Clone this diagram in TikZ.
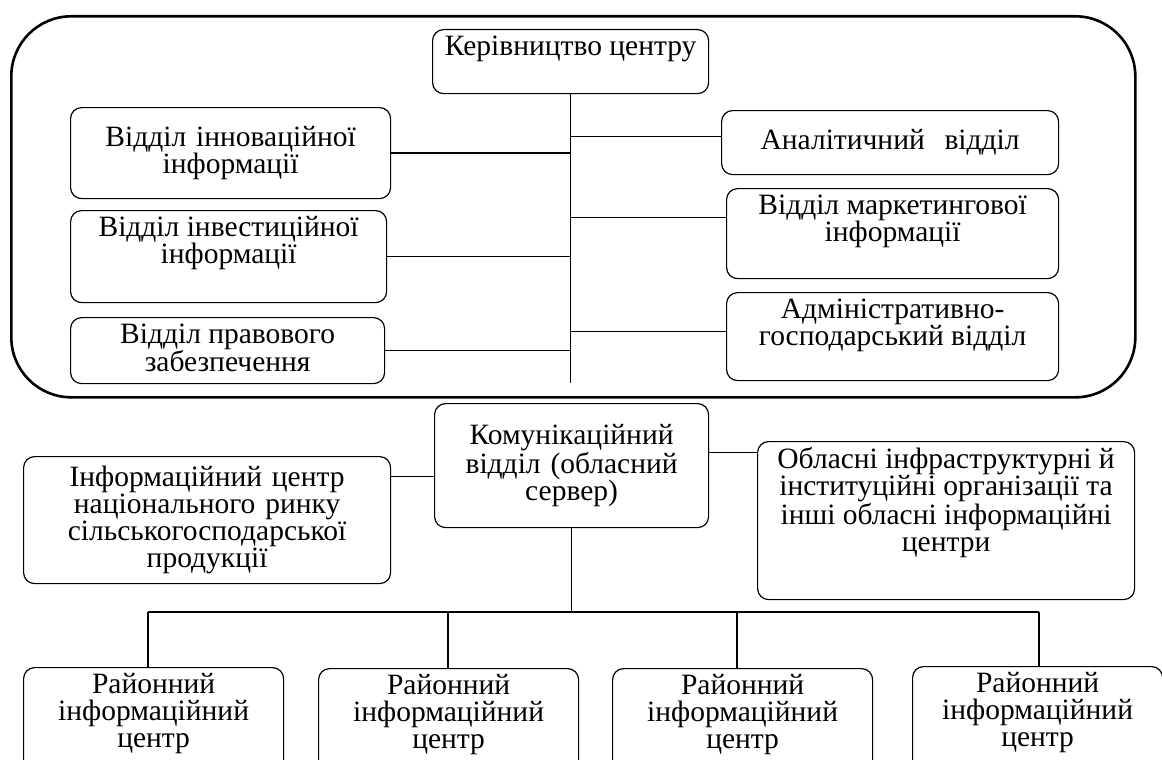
\documentclass[tikz,border=0pt]{standalone}
\usepackage{fontspec}
\setmainfont{Liberation Serif}
\usetikzlibrary{positioning,calc}

\begin{document}
\begin{tikzpicture}[
    x=1pt, y=-1pt,
    every node/.style={font=\fontsize{29.5}{27}\selectfont},
    unit/.style={rectangle, draw, rounded corners=11pt, line width=1.2pt, anchor=north west},
    midbox/.style 2 args={unit, text width=#1, minimum width=#1, minimum height=#2, inner sep=0pt, align=center},
    topbox/.style 2 args={unit, inner xsep=0pt, inner ysep=6pt,
        execute at begin node={\begin{minipage}[t][\dimexpr#2-12pt\relax][t]{#1}\centering},
        execute at end node={\end{minipage}}},
    frame/.style={rectangle, draw, line width=2.6pt, rounded corners=60pt, anchor=north west},
    link/.style={line width=1.4pt}
]
\path[use as bounding box, clip] (0,0) rectangle (1162,760);

% Centre management block
\node[frame, minimum width=1124pt, minimum height=381pt] (centre) at (10,15) {};
\node[topbox={276pt}{64pt}] (head) at (432,29) {Керівництво центру};

% Left departments
\node[midbox={320pt}{91pt}] (innov) at (70,107) {Відділ інноваційної\\інформації};
\node[topbox={316pt}{92pt}] (invest) at (70,210) {Відділ інвестиційної\\інформації};
\node[topbox={314pt}{66pt}] (legal) at (70,317) {Відділ правового\\забезпечення};

% Right departments
\node[midbox={337pt}{64pt}] (analyt) at (721,110) {Аналітичний\ \ відділ};
\node[topbox={332pt}{90pt}] (market) at (726,188) {Відділ маркетингової\\інформації};
\node[topbox={332pt}{88pt}] (admin) at (726,292) {Адміністративно-\\господарський відділ};

% Regional level
\node[midbox={274pt}{124pt}] (comm) at (434,403) {Комунікаційний\\відділ (обласний\\сервер)};
\node[midbox={367pt}{127pt}] (natc) at (23,456) {Інформаційний центр\\національного ринку\\сільськогосподарської\\продукції};
\node[topbox={377pt}{158pt}] (obl) at (757,441) {Обласні інфраструктурні й\\інституційні організації та\\інші обласні інформаційні\\центри};

% District centres
\node[topbox={260pt}{110pt}] (dist1) at (23,667) {Районний\\інформаційний\\центр};
\node[topbox={260pt}{110pt}] (dist2) at (318,668) {Районний\\інформаційний\\центр};
\node[topbox={260pt}{110pt}] (dist3) at (612,668) {Районний\\інформаційний\\центр};
\node[topbox={250pt}{110pt}] (dist4) at (912,666) {Районний\\інформаційний\\центр};

% Spine of the centre
\coordinate (spine) at (570,383);
\draw[link] (head.south) -- (head.south |- spine);
\draw[link] (innov.east) -- (innov.east -| spine);
\draw[link] (invest.east) -- (invest.east -| spine);
\draw[link] (legal.east) -- (legal.east -| spine);
\coordinate (analytIn) at ([yshift=6pt]analyt.west);
\coordinate (marketIn) at ([yshift=16pt]market.west);
\coordinate (adminIn) at ([yshift=5pt]admin.west);
\draw[link] (analytIn) -- (analytIn -| spine);
\draw[link] (marketIn) -- (marketIn -| spine);
\draw[link] (adminIn) -- (adminIn -| spine);

% Regional links
\coordinate (commR) at ([yshift=13pt]comm.east);
\coordinate (commL) at ([yshift=-11pt]comm.west);
\draw[link] (commR) -- (commR -| obl.west);
\draw[link] (commL) -- (commL -| natc.east);

% Bus to district centres
\coordinate (busL) at (148,612);
\coordinate (drop2) at (448,612);
\coordinate (drop3) at (737,612);
\coordinate (busR) at (1039,612);
\draw[link] (comm.south) -- (comm.south |- busL);
\draw[link] (busL) -- (busR);
\draw[link] (busL) -- (busL |- dist1.north);
\draw[link] (drop2) -- (drop2 |- dist2.north);
\draw[link] (drop3) -- (drop3 |- dist3.north);
\draw[link] (busR) -- (busR |- dist4.north);

\end{tikzpicture}
\end{document}
